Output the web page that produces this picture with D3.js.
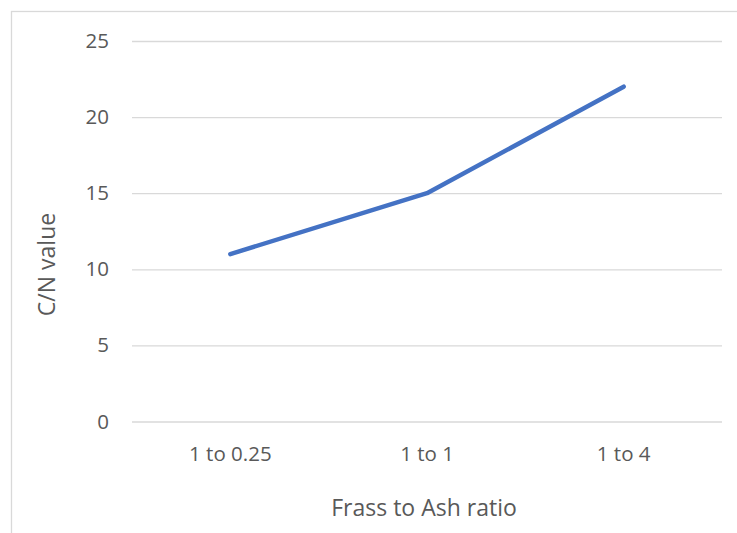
<!DOCTYPE html>
<html>
<head>
<meta charset="utf-8">
<script src="https://cdn.jsdelivr.net/npm/d3@7"></script>
<style>
  html, body { margin: 0; padding: 0; background: #fff; }
  svg { display: block; }
  text { font-family: "Open Sans", "Noto Sans", sans-serif; fill: #595959; }
</style>
</head>
<body>
<svg id="chart" width="737" height="533"></svg>
<script>
// Frass-to-ash mixes and their measured C/N values
const categories = ["1 to 0.25", "1 to 1", "1 to 4"];
const cnValues = [11, 15, 22];
const yTicks = [0, 5, 10, 15, 20, 25];
const xTitle = "Frass to Ash ratio";
const yTitle = "C/N value";

const svg = d3.select("#chart");
const W = 737, H = 533;
const plot = { left: 132, right: 722, top: 41, bottom: 421.5 };
const FONT = '"Open Sans", "Noto Sans", sans-serif';

// Chart frame (runs off the right and bottom edges)
svg.append("rect")
  .attr("x", 11.5).attr("y", 11.5)
  .attr("width", W).attr("height", H)
  .attr("fill", "none").attr("stroke", "#d9d9d9").attr("stroke-width", 1.3);

const x = d3.scaleBand().domain(categories).range([plot.left, plot.right]);
const y = d3.scaleLinear().domain([0, 25]).range([plot.bottom, plot.top]);

// Horizontal gridlines with value labels
const yAxis = d3.axisLeft(y).tickValues(yTicks).tickSize(-(plot.right - plot.left)).tickPadding(23);
const gy = svg.append("g").attr("transform", `translate(${plot.left},0)`).call(yAxis);
gy.select(".domain").remove();
gy.selectAll(".tick line").attr("stroke", "#d9d9d9").attr("stroke-width", 1.3);
gy.selectAll(".tick text").attr("font-size", 20.5).style("fill", "#595959")
  .style("font-family", FONT);

// Category labels
const xAxis = d3.axisBottom(x).tickSize(0).tickPadding(25);
const gx = svg.append("g").attr("transform", `translate(0,${plot.bottom})`).call(xAxis);
gx.select(".domain").remove();
gx.selectAll(".tick text").attr("font-size", 20.5).style("fill", "#595959")
  .style("font-family", FONT);

// Series line
const line = d3.line()
  .x((d, i) => x(categories[i]) + x.bandwidth() / 2)
  .y(d => y(d));
svg.append("path")
  .datum(cnValues)
  .attr("d", line)
  .attr("fill", "none")
  .attr("stroke", "#4472C4")
  .attr("stroke-width", 4.5)
  .attr("stroke-linecap", "round")
  .attr("stroke-linejoin", "round");

// Axis titles
svg.append("text")
  .attr("x", 424).attr("y", 516)
  .attr("text-anchor", "middle").attr("font-size", 23)
  .text(xTitle);
svg.append("text")
  .attr("transform", "translate(55,264.5) rotate(-90)")
  .attr("text-anchor", "middle").attr("font-size", 23)
  .text(yTitle);
</script>
</body>
</html>
